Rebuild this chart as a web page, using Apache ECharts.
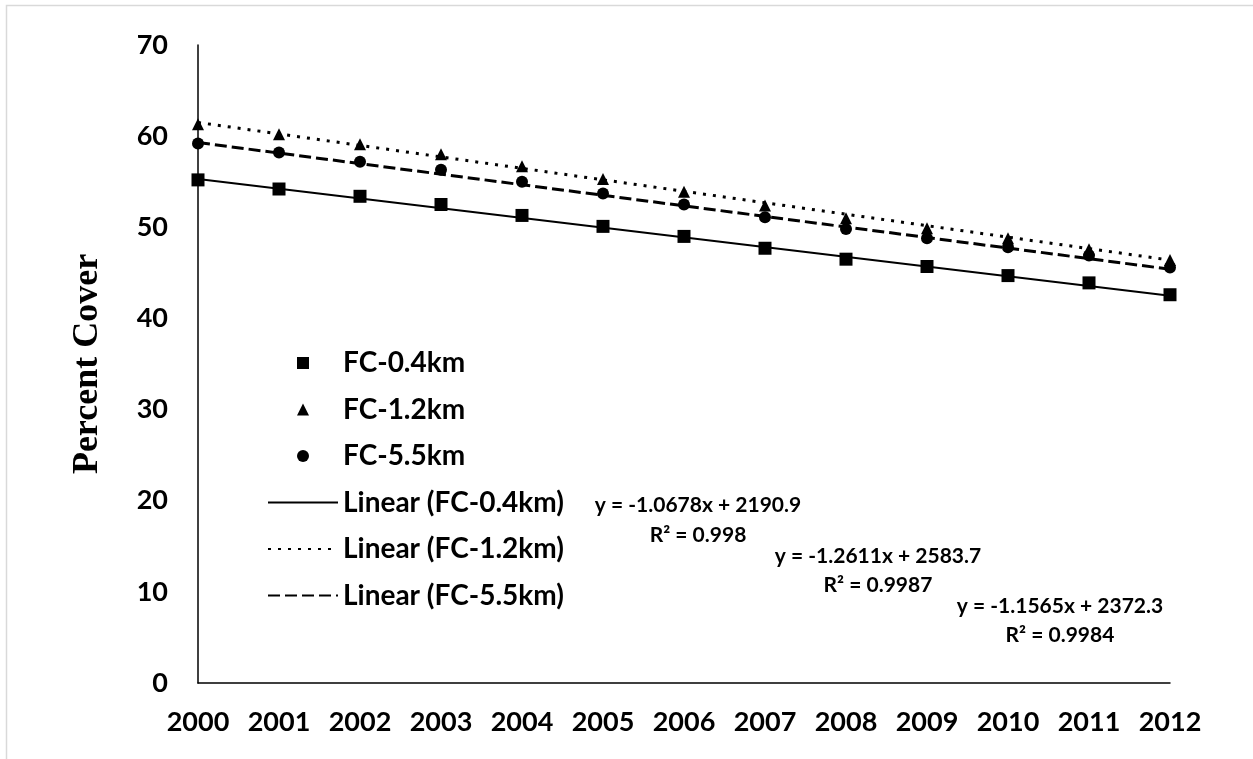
<!DOCTYPE html>
<html>
<head>
<meta charset="utf-8">
<script src="https://cdn.jsdelivr.net/npm/echarts@6/dist/echarts.min.js"></script>
<style>
    html, body { margin: 0; padding: 0; background: #fff; }
    #chart { width: 1253px; height: 759px; }
</style>
</head>
<body>
<div id="chart"></div>
<script>
// values
const years = [2000, 2001, 2002, 2003, 2004, 2005, 2006, 2007, 2008, 2009, 2010, 2011, 2012];
const fc04 = [55.2, 54.2, 53.4, 52.5, 51.3, 50.1, 49.0, 47.7, 46.5, 45.7, 44.7, 43.9, 42.6];
const fc12 = [61.3, 60.2, 59.1, 58.0, 56.7, 55.3, 53.9, 52.4, 51.0, 49.9, 48.8, 47.6, 46.4];
const fc55 = [59.2, 58.2, 57.2, 56.3, 55.0, 53.7, 52.5, 51.1, 49.8, 48.8, 47.8, 46.9, 45.6];

// trend lines, start and end
const trendYears = [2000, 2012];
const trend04 = [55.3, 42.5];
const trend12 = [61.5, 46.4];
const trend55 = [59.3, 45.4];

const yTicks = [0, 10, 20, 30, 40, 50, 60, 70];
const equations = ['y = -1.0678x + 2190.9', 'y = -1.2611x + 2583.7', 'y = -1.1565x + 2372.3'];
const rSquared = ['R² = 0.998', 'R² = 0.9987', 'R² = 0.9984'];

const font = 'Lato';
const pairs = (xs, ys) => xs.map((x, i) => [x, ys[i]]);

const chart = echarts.init(document.getElementById('chart'));

// equation labels (x, y of equation line, y of R² line)
const eqPos = [[698, 505, 535], [878, 556, 585], [1060, 606, 635]];
const eqGraphics = [];
equations.forEach((t, i) => {
    eqGraphics.push({
        type: 'text', silent: true,
        x: eqPos[i][0], y: eqPos[i][1],
        style: { text: t, font: 'bold 21px ' + font, fill: '#000', align: 'center', verticalAlign: 'middle' }
    });
    eqGraphics.push({
        type: 'text', silent: true,
        x: eqPos[i][0], y: eqPos[i][2],
        style: { text: rSquared[i], font: 'bold 21px ' + font, fill: '#000', align: 'center', verticalAlign: 'middle' }
    });
});

const hideDot = { color: 'rgba(0,0,0,0)', borderWidth: 0 };

const option = {
    backgroundColor: '#fff',
    animation: false,
    textStyle: { fontFamily: font },
    grid: { left: 198, right: 83, top: 45, bottom: 76 },
    legend: {
        orient: 'vertical',
        left: 262,
        top: 343,
        itemWidth: 70,
        itemHeight: 12,
        itemGap: 16.5,
        symbolKeepAspect: true,
        textStyle: { fontSize: 28, fontWeight: 'bold', color: '#000', fontFamily: font, lineHeight: 30 },
        data: [
            { name: 'FC-0.4km', icon: 'path://M0,0L1,0L1,1L0,1Z' },
            { name: 'FC-1.2km', icon: 'path://M0.5,0L1,1L0,1Z' },
            { name: 'FC-5.5km', icon: 'circle' },
            { name: 'Linear (FC-0.4km)', itemStyle: hideDot },
            { name: 'Linear (FC-1.2km)', itemStyle: hideDot },
            { name: 'Linear (FC-5.5km)', itemStyle: hideDot }
        ]
    },
    xAxis: {
        type: 'value',
        min: 2000,
        max: 2012,
        interval: 1,
        axisLine: { lineStyle: { color: '#000', width: 1.5 } },
        axisTick: { show: false },
        splitLine: { show: false },
        axisLabel: {
            margin: 26,
            fontSize: 27, fontWeight: 'bold', color: '#000', fontFamily: font,
            formatter: v => String(v)
        }
    },
    yAxis: {
        type: 'value',
        min: yTicks[0],
        max: yTicks[yTicks.length - 1],
        interval: 10,
        name: 'Percent Cover',
        nameLocation: 'middle',
        nameGap: 92,
        nameTextStyle: { fontFamily: 'Liberation Serif', fontSize: 36, fontWeight: 'bold', color: '#000' },
        axisLine: { show: true, lineStyle: { color: '#000', width: 1.5 } },
        axisTick: { show: false },
        splitLine: { show: false },
        axisLabel: { margin: 30, fontSize: 27, fontWeight: 'bold', color: '#000', fontFamily: font }
    },
    graphic: [
        {
            type: 'rect', silent: true, z: -10,
            shape: { x: 6.5, y: 5.5, width: 1400, height: 900 },
            style: { fill: 'none', stroke: '#d9d9d9', lineWidth: 1.5 }
        }
    ].concat(eqGraphics),
    series: [
        {
            name: 'Linear (FC-0.4km)', type: 'line', symbol: 'none', z: 2,
            data: pairs(trendYears, trend04),
            lineStyle: { color: '#000', width: 2, type: 'solid' },
            itemStyle: { color: '#000' }
        },
        {
            name: 'Linear (FC-1.2km)', type: 'line', symbol: 'none', z: 2,
            data: pairs(trendYears, trend12),
            lineStyle: { color: '#000', width: 3, type: [3, 7] },
            itemStyle: { color: '#000' }
        },
        {
            name: 'Linear (FC-5.5km)', type: 'line', symbol: 'none', z: 2,
            data: pairs(trendYears, trend55),
            lineStyle: { color: '#000', width: 3, type: [12, 5] },
            itemStyle: { color: '#000' }
        },
        {
            name: 'FC-0.4km', type: 'scatter', symbol: 'rect', symbolSize: 13, z: 3,
            data: pairs(years, fc04), itemStyle: { color: '#000', opacity: 1 }
        },
        {
            name: 'FC-1.2km', type: 'scatter', symbol: 'triangle', symbolSize: 12, z: 3,
            data: pairs(years, fc12), itemStyle: { color: '#000', opacity: 1 }
        },
        {
            name: 'FC-5.5km', type: 'scatter', symbol: 'circle', symbolSize: 12, z: 3,
            data: pairs(years, fc55), itemStyle: { color: '#000', opacity: 1 }
        }
    ]
};

chart.setOption(option);
</script>
</body>
</html>
